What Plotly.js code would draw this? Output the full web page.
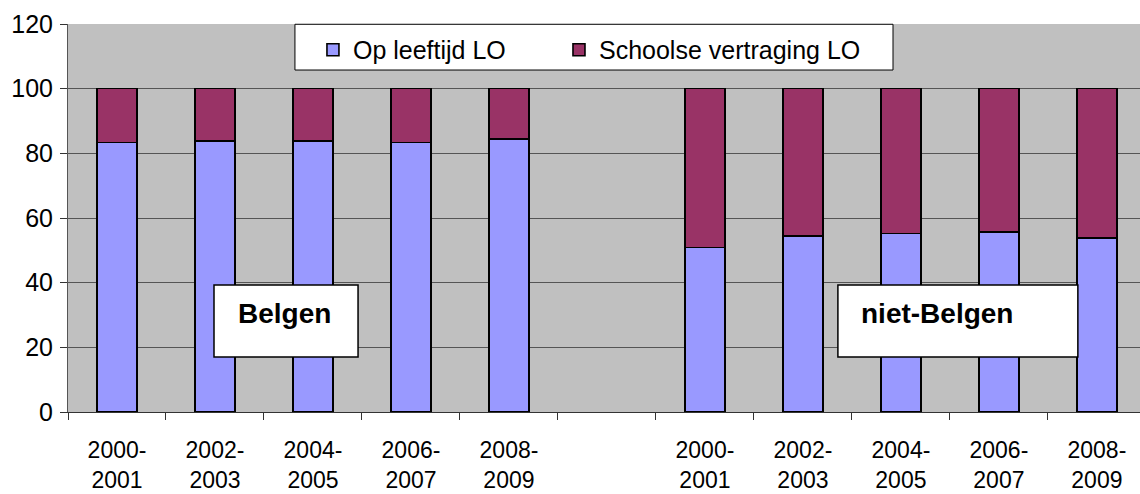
<!DOCTYPE html>
<html>
<head>
<meta charset="utf-8">
<script src="https://cdn.plot.ly/plotly-3.0.1.min.js"></script>
<style>
  html, body { margin: 0; padding: 0; background: #ffffff; }
  #chart { width: 1140px; height: 494px; }
</style>
</head>
<body>
<div id="chart"></div>
<script>
// ---- data ----
var categories = ['B 2000-2001', 'B 2002-2003', 'B 2004-2005', 'B 2006-2007', 'B 2008-2009',
                  'gap',
                  'NB 2000-2001', 'NB 2002-2003', 'NB 2004-2005', 'NB 2006-2007', 'NB 2008-2009'];
var tickLabels = ['2000-<br>2001', '2002-<br>2003', '2004-<br>2005', '2006-<br>2007', '2008-<br>2009',
                  '',
                  '2000-<br>2001', '2002-<br>2003', '2004-<br>2005', '2006-<br>2007', '2008-<br>2009'];
var opLeeftijd = [83.4, 83.9, 83.9, 83.3, 84.4, null, 50.9, 54.5, 55.2, 55.7, 53.8];
var vertraging = [16.6, 16.1, 16.1, 16.7, 15.6, null, 49.1, 45.5, 44.8, 44.3, 46.2];
var seriesNames = ['Op leeftijd LO', 'Schoolse vertraging LO'];
var groupLabels = ['Belgen', 'niet-Belgen'];

var FONT = 'Liberation Sans, Arial, sans-serif';

var traces = [
  {
    type: 'bar', name: seriesNames[0], x: categories, y: opLeeftijd, width: 0.41,
    legend: 'legend',
    marker: { color: '#9999FF', line: { color: '#000000', width: 1.6 } }
  },
  {
    type: 'bar', name: seriesNames[1], x: categories, y: vertraging, width: 0.41,
    legend: 'legend2',
    marker: { color: '#993366', line: { color: '#000000', width: 1.6 } }
  }
];

var legendStyle = function (xPos) {
  return {
    orientation: 'h',
    x: xPos, y: 0.933, xanchor: 'left', yanchor: 'middle',
    bgcolor: 'rgba(0,0,0,0)', borderwidth: 0,
    font: { family: FONT, size: 25, color: '#000000' }
  };
};

var layout = {
  width: 1140, height: 494,
  margin: { l: 68, r: 0, t: 24, b: 82, pad: 0 },
  paper_bgcolor: '#FFFFFF',
  plot_bgcolor: '#C0C0C0',
  barmode: 'stack',
  font: { family: FONT, color: '#000000' },
  showlegend: true,
  legend: legendStyle(0.2285),
  legend2: legendStyle(0.458),
  xaxis: {
    type: 'category',
    range: [-0.5, 10.44],
    tickvals: categories, ticktext: tickLabels,
    tickson: 'boundaries',
    ticks: 'outside', ticklen: 7, tickcolor: '#333333', tickwidth: 1,
    showgrid: false, zeroline: false,
    showline: true, linecolor: '#333333', linewidth: 1,
    tickfont: { family: FONT, size: 23, color: '#000000' },
    ticklabelstandoff: 17
  },
  yaxis: {
    range: [0, 120], dtick: 20, tick0: 0,
    ticks: 'outside', ticklen: 7, tickcolor: '#333333', tickwidth: 1,
    showgrid: true, gridcolor: '#555555', gridwidth: 1,
    zeroline: false,
    showline: true, linecolor: '#555555', linewidth: 1,
    tickfont: { family: FONT, size: 25, color: '#000000' },
    ticklabelstandoff: 2
  },
  shapes: [
    // legend frame
    { type: 'rect', xref: 'paper', yref: 'paper', x0: 0.2117, x1: 0.7696, y0: 0.8814, y1: 0.9993,
      fillcolor: '#FFFFFF', line: { color: '#000000', width: 1 }, layer: 'above' },
    // group label boxes
    { type: 'rect', xref: 'x', yref: 'y', x0: 0.99, x1: 2.46, y0: 17.0, y1: 39.3,
      fillcolor: '#FFFFFF', line: { color: '#000000', width: 1.5 }, layer: 'above' },
    { type: 'rect', xref: 'x', yref: 'y', x0: 7.357, x1: 9.806, y0: 17.0, y1: 39.3,
      fillcolor: '#FFFFFF', line: { color: '#000000', width: 1.5 }, layer: 'above' }
  ],
  annotations: [
    { xref: 'x', yref: 'y', x: 1.214, y: 30.6, xanchor: 'left', yanchor: 'middle',
      text: '<b>' + groupLabels[0] + '</b>', showarrow: false,
      font: { family: FONT, size: 28, color: '#000000' } },
    { xref: 'x', yref: 'y', x: 7.571, y: 30.6, xanchor: 'left', yanchor: 'middle',
      text: '<b>' + groupLabels[1] + '</b>', showarrow: false,
      font: { family: FONT, size: 28, color: '#000000' } }
  ]
};

Plotly.newPlot('chart', traces, layout, { staticPlot: true, displayModeBar: false });
</script>
</body>
</html>
